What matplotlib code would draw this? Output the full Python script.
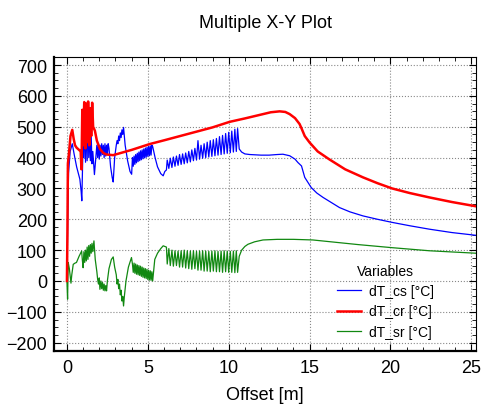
import matplotlib
matplotlib.use("Agg")
import matplotlib.pyplot as plt
from matplotlib.ticker import MultipleLocator

plt.rcParams['font.family'] = ['Liberation Sans', 'DejaVu Sans']

# dT_cs (blue)
cs_x = [0.0, 0.05, 0.1, 0.2, 0.33, 0.45, 0.6, 0.8, 0.88, 0.92, 0.97, 1.0,
        1.05, 1.1, 1.15, 1.2, 1.25, 1.3, 1.35, 1.4, 1.45, 1.5, 1.55, 1.6, 1.7,
        1.8, 1.85, 1.9, 1.95, 2.0, 2.05, 2.1, 2.15, 2.2, 2.25, 2.3, 2.35, 2.4,
        2.45, 2.5, 2.55, 2.6, 2.7, 2.8, 2.86,
        2.95, 3.05, 3.1, 3.15, 3.2, 3.25, 3.3, 3.35, 3.4, 3.45, 3.5, 3.6, 3.75,
        3.9, 4.0,
        4.05, 4.1, 4.15, 4.2, 4.25, 4.3, 4.35, 4.4, 4.45, 4.5, 4.55, 4.6, 4.65,
        4.7, 4.75, 4.8, 4.85, 4.9, 4.95, 5.0, 5.05, 5.1, 5.15, 5.2, 5.25, 5.3,
        5.45, 5.6, 5.8, 5.95, 6.05,
        6.15, 6.20, 6.30, 6.39, 6.49, 6.58, 6.68, 6.77, 6.87, 6.96, 7.06, 7.15,
        7.25, 7.34, 7.44, 7.53, 7.63, 7.72, 7.82, 7.91, 8.01, 8.10, 8.20, 8.29,
        8.39, 8.48, 8.58, 8.67, 8.77, 8.86, 8.96, 9.05, 9.15, 9.24, 9.34, 9.43,
        9.53, 9.62, 9.72, 9.81, 9.91, 10.00, 10.10, 10.19, 10.29, 10.38, 10.47,
        10.55, 10.65,
        10.8, 11.0, 11.3, 12.0, 12.5, 13.0, 13.35, 13.77, 14.1, 14.28, 14.5,
        14.7, 15.1, 15.45, 15.83, 16.85, 17.5, 18.3, 19.2, 20.1, 21.2, 22.4,
        23.8, 25.3]
cs_y = [0, 200, 350, 420, 445, 410, 370, 330, 290, 260, 380, 490,
        400, 540, 385, 550, 390, 545, 400, 500, 390, 470, 380, 420, 345,
        410, 440, 400, 445, 395, 440, 405, 445, 410, 440, 400, 445, 405,
        440, 410, 445, 430, 370, 335, 321,
        400, 440, 455, 445, 470, 455, 480, 465, 490, 475, 498, 440, 390,
        355, 346,
        400, 372, 405, 378, 410, 383, 414, 387, 418, 390, 422, 393, 425,
        396, 428, 399, 431, 401, 434, 404, 436, 406, 438, 408, 440, 436,
        400, 370, 348, 341, 355,
        360, 392, 365, 398, 368, 402, 372, 405, 375, 410, 378, 412,
        380, 415, 383, 420, 386, 425, 390, 430, 392, 455, 395, 440,
        398, 445, 400, 450, 402, 455, 404, 458, 406, 462, 408, 468,
        410, 472, 412, 478, 414, 482, 416, 486, 418, 492, 420,
        494, 428,
        418, 412, 410, 408, 408, 410, 411, 406, 395, 384, 373,
        336, 303, 285, 271, 238, 224, 211, 200, 190, 179, 168,
        157, 148]

# dT_cr (red)
cr_x = [0.0, 0.03, 0.06, 0.12, 0.22, 0.33, 0.42, 0.5, 0.6, 0.75, 0.85, 0.9,
        0.95, 1.0, 1.07, 1.14, 1.2, 1.26, 1.31, 1.38, 1.45, 1.5, 1.56, 1.62,
        1.73, 1.85, 2.04, 2.25, 2.45, 2.86, 4.0, 5.12, 6.0, 7.0, 8.0, 9.0,
        10.06, 11.0, 12.12, 12.6, 13.15, 13.5, 13.77, 14.1, 14.38, 14.5, 14.7,
        15.0, 15.5, 16.2, 17.2, 18.3, 19.2, 20.1, 21.2, 22.4, 23.8, 25.3]
cr_y = [0, 150, 380, 410, 470, 490, 460, 440, 432, 425, 420, 362,
        555, 440, 580, 430, 575, 450, 582, 440, 560, 470, 578, 500,
        487, 455, 428, 415, 410, 408, 425, 444, 456, 470, 484, 498,
        516, 527, 541, 547, 550, 548, 541, 528, 509, 495, 470,
        449, 420, 395, 362, 336, 317, 300, 285, 271, 256, 242]

# dT_sr (green)
sr_x = [0.0, 0.04, 0.08, 0.15, 0.25, 0.3, 0.39, 0.5, 0.59, 0.75, 0.91, 0.95,
        1.0, 1.05, 1.1, 1.15, 1.2, 1.25, 1.3, 1.35, 1.4, 1.45, 1.5, 1.55, 1.6,
        1.67, 1.75, 1.85, 1.9, 1.95, 2.0, 2.04, 2.1, 2.15, 2.2, 2.25, 2.3,
        2.35, 2.4, 2.45, 2.5, 2.6, 2.75, 2.86,
        2.95, 3.05, 3.1, 3.15, 3.2, 3.25, 3.3, 3.35, 3.4, 3.45, 3.5, 3.55,
        3.65, 3.8, 3.99,
        4.05, 4.1, 4.15, 4.2, 4.25, 4.3, 4.35, 4.4, 4.45, 4.5, 4.55, 4.6, 4.65,
        4.7, 4.75, 4.8, 4.85, 4.9, 4.95, 5.0, 5.05, 5.1, 5.15, 5.2, 5.25, 5.3,
        5.43, 5.6, 5.8, 5.95, 6.05,
        6.15, 6.20, 6.30, 6.39, 6.49, 6.58, 6.68, 6.77, 6.87, 6.96, 7.06, 7.15,
        7.25, 7.34, 7.44, 7.53, 7.63, 7.72, 7.82, 7.91, 8.01, 8.10, 8.20, 8.29,
        8.39, 8.48, 8.58, 8.67, 8.77, 8.86, 8.96, 9.05, 9.15, 9.24, 9.34, 9.43,
        9.53, 9.62, 9.72, 9.81, 9.91, 10.00, 10.10, 10.19, 10.29, 10.38, 10.47,
        10.55, 10.65,
        10.8, 11.0, 11.19, 11.6, 12.12, 13.0, 14.0, 15.2, 16.5, 18.0, 20.1,
        22.4, 25.3]
sr_y = [0, -59, 60, 40, -7, 20, 54, 58, 60, 80, 97, 70,
        43, 95, 60, 100, 65, 110, 70, 115, 80, 118, 90, 122, 95,
        130, 70, 30, 5, -10, 10, -27, 0, -25, -5, -30, -10,
        -32, -15, -32, 0, 40, 70, 78,
        45, 20, -10, 5, -25, -10, -45, -30, -65, -50, -81, -50,
        0, 45, 76,
        55, 28, 58, 25, 55, 22, 52, 20, 50, 18, 48, 15, 45,
        12, 42, 10, 40, 8, 38, 5, 35, 3, 33, 2, 30, 0,
        70, 90, 105, 114, 112,
        110, 55, 105, 50, 100, 48, 98, 50, 97, 45, 98, 45,
        100, 42, 98, 40, 97, 38, 98, 40, 96, 35, 97, 35,
        98, 32, 97, 32, 96, 30, 97, 32, 98, 30, 96, 30,
        97, 28, 98, 30, 97, 28, 96, 28, 97, 27, 98,
        28, 80,
        100, 112, 119, 127, 133, 135, 135, 133, 126, 118, 108,
        98, 90]

fig = plt.figure(figsize=(4.82, 4.06), dpi=100)
ax = fig.add_axes([0.112, 0.133, 0.876, 0.724])

ax.plot(cs_x, cs_y, color='#0000ff', linewidth=0.9, label='dT_cs [°C]', zorder=2)
ax.plot(cr_x, cr_y, color='#ff0000', linewidth=1.8, label='dT_cr [°C]', zorder=3)
ax.plot(sr_x, sr_y, color='#118811', linewidth=0.9, label='dT_sr [°C]', zorder=2)

ax.set_xlim(-0.8, 25.3)
ax.set_ylim(-227, 726)
ax.xaxis.set_major_locator(MultipleLocator(5))
ax.xaxis.set_minor_locator(MultipleLocator(1))
ax.yaxis.set_major_locator(MultipleLocator(100))
ax.yaxis.set_minor_locator(MultipleLocator(25))
ax.tick_params(which='both', direction='in', top=True, right=True,
               labelsize=13, colors='black')
ax.tick_params(which='major', length=5, width=0.8)
ax.tick_params(which='minor', length=3, width=0.6)
ax.tick_params(axis='y', pad=5)
ax.tick_params(axis='x', pad=6)

ax.grid(which='major', color='#888888', linestyle=':', linewidth=0.8)
for side in ['left', 'bottom']:
    ax.spines[side].set_linewidth(1.6)
for side in ['top', 'right']:
    ax.spines[side].set_linewidth(0.8)

ax.set_xlabel('Offset [m]', fontsize=13, labelpad=7)
ax.set_title('Multiple X-Y Plot', fontsize=13, pad=22)

leg = ax.legend(title='Variables', loc='upper left', frameon=False,
                bbox_to_anchor=(330 / 482, 1 - 258 / 406),
                bbox_transform=fig.transFigure, fontsize=10, title_fontsize=10,
                handlelength=1.7, handletextpad=0.6, labelspacing=0.45,
                borderpad=0)

fig.savefig('out.png', dpi=100)
